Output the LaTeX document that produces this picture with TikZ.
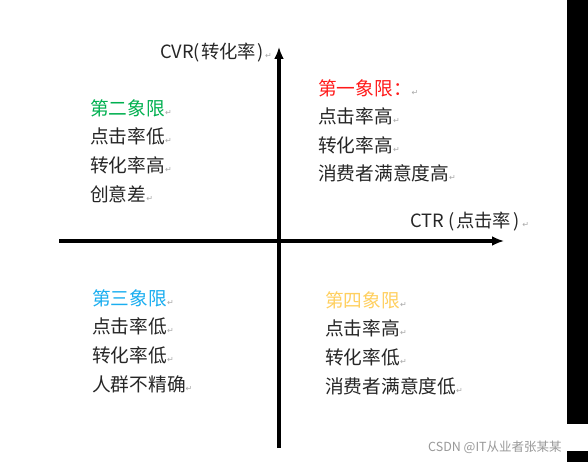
\documentclass[tikz,border=0pt]{standalone}
\usepackage{fontspec}
\setmainfont{Noto Sans CJK SC}
\newfontfamily\symfont{DejaVu Sans}
\usetikzlibrary{arrows.meta}
\definecolor{qred}{HTML}{FF1A1A}
\definecolor{qgreen}{HTML}{00B050}
\definecolor{qblue}{HTML}{1AAEF0}
\definecolor{qgold}{HTML}{FFD060}
\definecolor{markgray}{HTML}{A8A8A8}
\newcommand{\retmark}{{\symfont\fontsize{8}{8}\selectfont\textcolor{markgray}{↵}}}

\begin{document}
\begin{tikzpicture}[x=1pt, y=-1pt,
        quad/.style={anchor=base west, inner sep=0pt, align=left,
          font=\fontsize{18.7}{28.6}\selectfont, text=black!85},
        axislbl/.style={anchor=base west, inner sep=0pt,
          font=\fontsize{18.3}{18}\selectfont, text=black!85},
        axis/.style={line width=3.4pt, -{Latex[length=12pt,width=10pt]}},
      ]
      \useasboundingbox (0,0) rectangle (588,462);
      \fill[white] (0,0) rectangle (588,462);
      % black strip on the right edge
      \fill[black] (567,0) rectangle (588,424);
      \fill[black] (567,451) rectangle (588,462);
      % axes
      \coordinate (xleft)  at (59,241);
      \coordinate (xright) at (504,241);
      \coordinate (ybot)   at (279,448);
      \coordinate (ytop)   at (279,47);
      \draw[axis] (xleft) -- (xright);
      \draw[axis] (ybot) -- (ytop);
      \node[axislbl] (cvr) at (160,59)  {CVR(\kern1pt转化率\kern1pt)\kern2pt\retmark};
      \node[axislbl] (ctr) at (410,227) {CTR\kern4pt(\kern2pt点击率\kern2pt)\kern3pt\retmark};
      % quadrants (placed by the baseline of the last line)
      \node[quad] (q1) at (318,181) {\textcolor{qred}{第一象限：}\retmark\\点击率高\retmark\\转化率高\retmark\\消费者满意度高\retmark};
      \node[quad] (q2) at (90,201)  {\textcolor{qgreen}{第二象限}\retmark\\点击率低\retmark\\转化率高\retmark\\创意差\retmark};
      \node[quad] (q3) at (92,391)  {\textcolor{qblue}{第三象限}\retmark\\点击率低\retmark\\转化率低\retmark\\人群不精确\retmark};
      \node[quad] (q4) at (325,393) {\textcolor{qgold}{第四象限}\retmark\\点击率高\retmark\\转化率低\retmark\\消费者满意度低\retmark};
      \node[anchor=base west, inner sep=0pt, font=\fontsize{12.5}{12.5}\selectfont, text=black!40] (wm) at (428,451) {CSDN @IT从业者张某某};
    \end{tikzpicture}
\end{document}
